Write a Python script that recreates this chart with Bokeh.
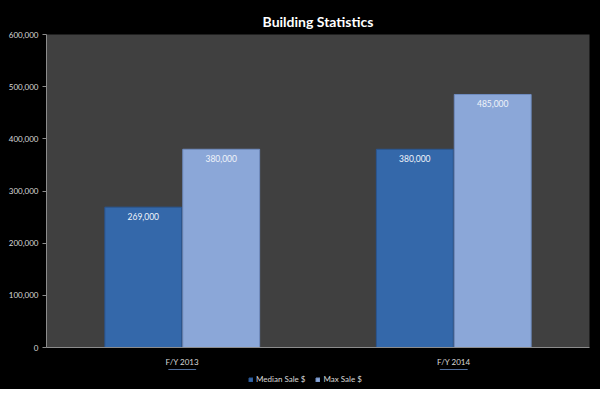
from bokeh.plotting import figure
from bokeh.layouts import column
from bokeh.models import (ColumnDataSource, LabelSet, Legend, LegendItem, NumeralTickFormatter,
                          FixedTicker, Range1d)
from bokeh.transform import dodge
from bokeh.core.properties import value
from bokeh.embed import file_html
from bokeh.resources import INLINE

categories = ["F/Y 2013", "F/Y 2014"]
median_sale = [269000, 380000]
max_sale = [380000, 485000]
series_names = ["Median Sale $", "Max Sale $"]
y_ticks = [0, 100000, 200000, 300000, 400000, 500000, 600000]
colors = ["#3468aa", "#8ba7d8"]
edge_colors = ["#2a5590", "#6f8cc0"]

src = ColumnDataSource(dict(
    cat=categories,
    median=median_sale,
    mx=max_sale,
    median_lbl=[f"{v:,}" for v in median_sale],
    mx_lbl=[f"{v:,}" for v in max_sale],
))

FONT = "Lato"
p = figure(x_range=categories, y_range=(0, 600000), width=600, height=369,
           output_backend="svg", toolbar_location=None,
           background_fill_color="#404040", border_fill_color="#000000",
           min_border_left=46, min_border_right=11, min_border_top=34, min_border_bottom=22)
p.outline_line_color = None
p.grid.visible = False
p.styles = {"background-color": "#000000"}

p.title.text = "Building Statistics"
p.title.align = "center"
p.title.text_color = "#ffffff"
p.title.text_font = FONT
p.title.text_font_size = "14px"
p.title.text_font_style = "bold"

w = 0.283
p.vbar(x=dodge("cat", -w / 2 - 0.002, range=p.x_range), top="median", width=w, source=src,
       fill_color=colors[0], line_color=edge_colors[0], line_width=1)
p.vbar(x=dodge("cat", w / 2 + 0.002, range=p.x_range), top="mx", width=w, source=src,
       fill_color=colors[1], line_color=edge_colors[1], line_width=1)

for col, lbl, off in (("median", "median_lbl", -w / 2 - 0.002), ("mx", "mx_lbl", w / 2 + 0.002)):
    p.add_layout(LabelSet(x=dodge("cat", off, range=p.x_range), y=col, text=lbl, source=src,
                          text_align="center", text_baseline="top", y_offset=-6,
                          text_color="#f0f4fa", text_font=value(FONT), text_font_size="8.5px"))

for ax in (p.xaxis[0], p.yaxis[0]):
    ax.axis_line_color = "#8c8c8c"
    ax.major_tick_line_color = "#8c8c8c"
    ax.minor_tick_line_color = None
    ax.major_label_text_color = "#d9d9d9"
    ax.major_label_text_font = FONT
    ax.major_label_text_font_size = "8px"

p.yaxis.ticker = FixedTicker(ticks=y_ticks)
p.yaxis.formatter = NumeralTickFormatter(format="0,0")
p.yaxis.major_tick_out = 4
p.yaxis.major_tick_in = 0
p.yaxis.major_label_standoff = 4
p.xaxis.major_tick_out = 0
p.xaxis.major_tick_in = 0
p.xaxis.major_label_standoff = 9

# legend strip below the chart (bars of the same data, kept outside its visible y range)
lg = figure(width=600, height=20, x_range=categories, y_range=Range1d(-2, -1),
            output_backend="svg", toolbar_location=None, x_axis_type=None, y_axis_type=None,
            background_fill_color="#000000", border_fill_color="#000000",
            min_border_left=46, min_border_right=11, min_border_top=0, min_border_bottom=0)
lg.outline_line_color = None
lg.grid.visible = False
lg.styles = {"background-color": "#000000"}
items = []
for name, key, c, ec in zip(series_names, ["median", "mx"], colors, edge_colors):
    r = lg.vbar(x="cat", top=key, width=0.1, source=src, fill_color=c, line_color=ec)
    items.append(LegendItem(label=name, renderers=[r]))
legend = Legend(items=items, orientation="horizontal", location=(202, 5),
                background_fill_alpha=0, border_line_color=None,
                label_text_color="#d9d9d9", label_text_font=FONT, label_text_font_size="8px",
                glyph_width=5, glyph_height=5, label_height=10, spacing=10, padding=0, margin=0,
                label_standoff=3)
lg.add_layout(legend, "center")

layout = column(p, lg, spacing=0)
layout.styles = {"background-color": "#000000"}
open("out.html", "w").write(file_html(layout, INLINE))
